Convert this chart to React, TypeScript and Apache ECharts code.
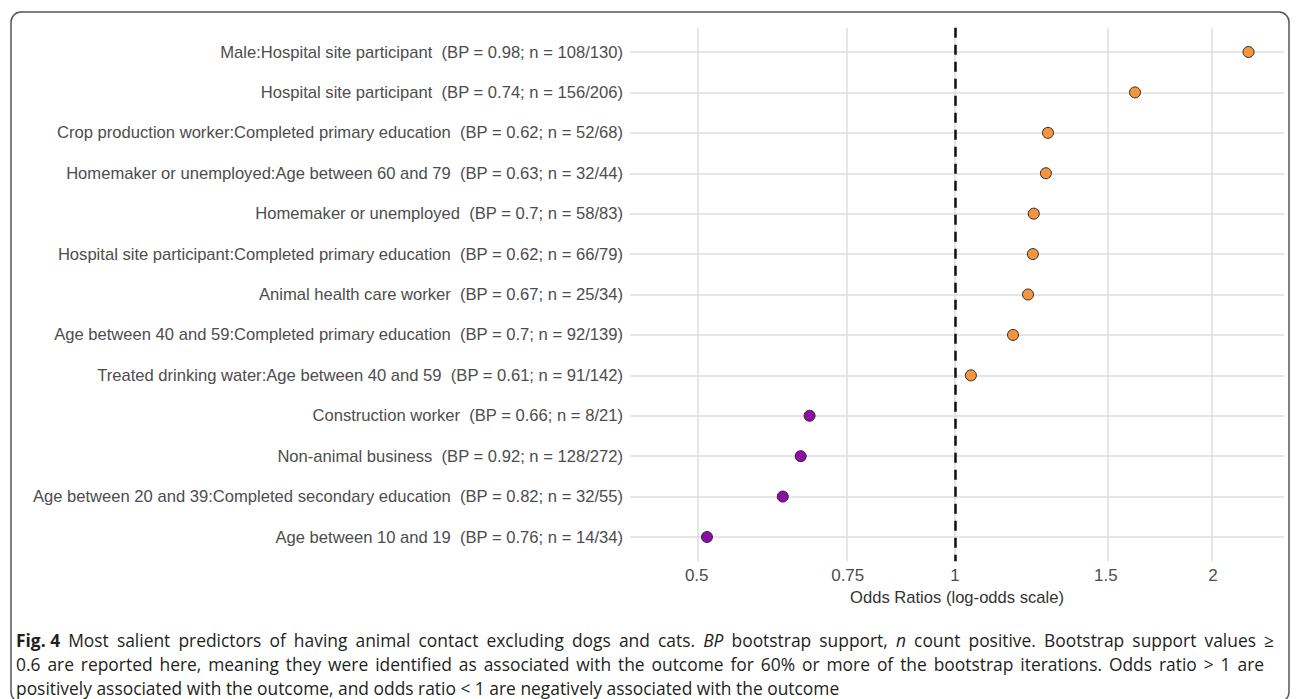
import React, { useEffect, useRef } from "react";
import * as echarts from "echarts";

const predictors = [
  "Male:Hospital site participant",
  "Hospital site participant",
  "Crop production worker:Completed primary education",
  "Homemaker or unemployed:Age between 60 and 79",
  "Homemaker or unemployed",
  "Hospital site participant:Completed primary education",
  "Animal health care worker",
  "Age between 40 and 59:Completed primary education",
  "Treated drinking water:Age between 40 and 59",
  "Construction worker",
  "Non-animal business",
  "Age between 20 and 39:Completed secondary education",
  "Age between 10 and 19",
];
const bpValues = [0.98, 0.74, 0.62, 0.63, 0.7, 0.62, 0.67, 0.7, 0.61, 0.66, 0.92, 0.82, 0.76];
const nPositive = ["108/130", "156/206", "52/68", "32/44", "58/83", "66/79", "25/34", "92/139", "91/142", "8/21", "128/272", "32/55", "14/34"];
const oddsRatios = [2.2, 1.622, 1.284, 1.277, 1.236, 1.233, 1.217, 1.169, 1.044, 0.677, 0.661, 0.63, 0.514];
const tickValues = [0.5, 0.75, 1, 1.5, 2];
const tickLabels = ["0.5", "0.75", "1", "1.5", "2"];
const xMin = 0.418;
const xMax = 2.42;

// caption: [text, style] segments; "b" bold, "i" italic, "" regular
const captionLine1: [string, string][] = [
  ["Fig. 4", "b"],
  ["Most salient predictors of having animal contact excluding dogs and cats.", ""],
  ["BP", "i"],
  ["bootstrap support,", ""],
  ["n", "i"],
  ["count positive. Bootstrap support values ≥", ""],
];
const captionLine2: [string, string][] = [
  ["0.6 are reported here, meaning they were identified as associated with the outcome for 60% or more of the bootstrap iterations. Odds ratio > 1 are", ""],
];
const captionLine3 = "positively associated with the outcome, and odds ratio < 1 are negatively associated with the outcome";

const CAP_FONT = "'Open Sans', 'Noto Sans', sans-serif";
const CAP_SIZE = 17.4;
const CAP_COLOR = "#231f20";

function fontFor(style: string) {
  if (style === "b") return `bold ${CAP_SIZE}px ${CAP_FONT}`;
  if (style === "i") return `italic ${CAP_SIZE}px ${CAP_FONT}`;
  return `${CAP_SIZE}px ${CAP_FONT}`;
}

function justifiedLine(segs: [string, string][], x0: number, x1: number, y: number) {
  const canvas = document.createElement("canvas");
  const ctx = canvas.getContext("2d")!;
  const words: { t: string; s: string; w: number }[] = [];
  segs.forEach(([txt, s]) => {
    const parts = s === "b" ? [txt] : txt.split(" ");
    parts.forEach((p) => {
      if (!p) return;
      ctx.font = fontFor(s);
      words.push({ t: p, s, w: ctx.measureText(p).width });
    });
  });
  const total = words.reduce((a, w) => a + w.w, 0);
  const gap = (x1 - x0 - total) / (words.length - 1);
  let x = x0;
  return words.map((w) => {
    const el = {
      type: "text",
      x,
      y,
      style: {
        text: w.t,
        fill: CAP_COLOR,
        font: fontFor(w.s),
        verticalAlign: "middle",
        align: "left",
      },
    };
    x += w.w + gap;
    return el;
  });
}

export default function App() {
  const ref = useRef<HTMLDivElement>(null);
  useEffect(() => {
    if (!ref.current) return;
    const chart = echarts.init(ref.current, null, { renderer: "svg" });
    const labels = predictors.map(
      (p, i) => `${p}\u00a0 (BP = ${bpValues[i]}; n = ${nPositive[i]})`
    );
    const rowIdx = predictors.map((_, i) => i);
    const lnTicks = tickValues.map((v) => Math.log(v));
    chart.setOption({
      animation: false,
      backgroundColor: "#ffffff",
      grid: { left: 630, right: 12, top: 27.75, bottom: 137.75 },
      xAxis: {
        type: "value",
        min: Math.log(xMin),
        max: Math.log(xMax),
        axisLine: { show: false },
        axisTick: { show: false },
        splitLine: { show: false },
        axisLabel: {
          customValues: lnTicks,
          margin: 6,
          color: "#4d4d4d",
          fontSize: 17,
          fontFamily: "'Liberation Sans', Arial, sans-serif",
          formatter: (v: number) => {
            let best = 0;
            lnTicks.forEach((t, i) => {
              if (Math.abs(t - v) < Math.abs(lnTicks[best] - v)) best = i;
            });
            return tickLabels[best];
          },
        },
        name: "Odds Ratios (log-odds scale)",
        nameLocation: "middle",
        nameGap: 26,
        nameTextStyle: {
          color: "#333333",
          fontSize: 16.6,
          fontFamily: "'Liberation Sans', Arial, sans-serif",
        },
      },
      yAxis: {
        type: "value",
        inverse: true,
        min: -0.6,
        max: 12.6,
        axisLine: { show: false },
        axisTick: { show: false },
        splitLine: { show: false },
        axisLabel: {
          customValues: rowIdx,
          margin: 7,
          color: "#4d4d4d",
          fontSize: 16.6,
          fontFamily: "'Liberation Sans', Arial, sans-serif",
          formatter: (v: number) => labels[Math.round(v)] ?? "",
        },
      },
      series: [
        {
          type: "scatter",
          data: [],
          z: 1,
          silent: true,
          markLine: {
            silent: true,
            symbol: "none",
            label: { show: false },
            lineStyle: { color: "#dedede", width: 1.5, type: "solid" },
            data: [
              ...lnTicks.map((t) => ({ xAxis: t })),
              ...rowIdx.map((r) => ({ yAxis: r })),
            ],
          },
        },
        {
          type: "scatter",
          data: [],
          z: 2,
          silent: true,
          markLine: {
            silent: true,
            symbol: "none",
            label: { show: false },
            lineStyle: { color: "#111111", width: 2.5, type: [10, 7] },
            data: [{ xAxis: 0 }],
          },
        },
        {
          type: "scatter",
          z: 5,
          symbolSize: 11,
          data: oddsRatios.map((or, i) => ({
            value: [Math.log(or), i],
            itemStyle: {
              color: or > 1 ? "#f7953f" : "#8e0ca8",
              borderColor: "#2a2a2a",
              borderWidth: 1,
              opacity: 1,
            },
          })),
        },
      ],
      graphic: [
        {
          type: "rect",
          z: -1,
          shape: { x: 11, y: 12, width: 1278, height: 690, r: 10 },
          style: { fill: "none", stroke: "#555555", lineWidth: 1.5 },
        },
        ...justifiedLine(captionLine1, 16, 1274, 640),
        ...justifiedLine(captionLine2, 16, 1264, 664),
        {
          type: "text",
          x: 16,
          y: 688,
          style: {
            text: captionLine3,
            fill: CAP_COLOR,
            font: fontFor(""),
            verticalAlign: "middle",
            align: "left",
          },
        },
      ],
    });
    return () => chart.dispose();
  }, []);
  return (
    <div
      ref={ref}
      style={{ position: "fixed", left: 0, top: 0, width: 1296, height: 699 }}
    />
  );
}
